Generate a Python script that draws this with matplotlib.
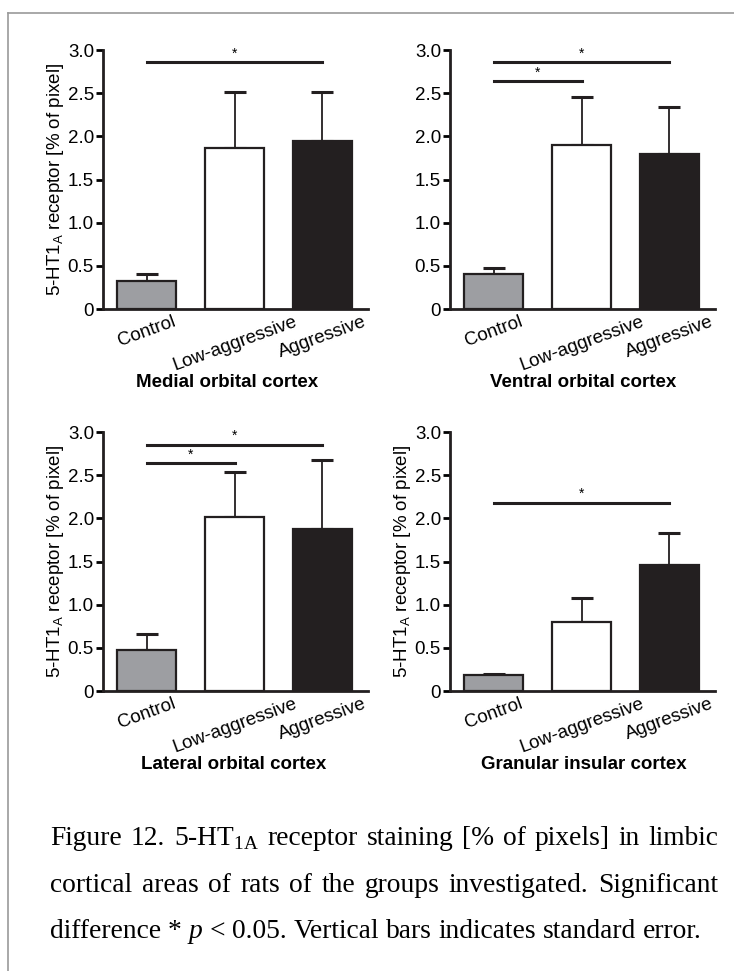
import numpy as np
import matplotlib
matplotlib.use('Agg')
import matplotlib.pyplot as plt
from matplotlib.lines import Line2D

plt.rcParams['font.family'] = ['Liberation Sans', 'DejaVu Sans']

groups = ['Control', 'Low-aggressive', 'Aggressive']
bar_colors = ['#9d9ea2', '#ffffff', '#231f20']
regions = ['Medial orbital cortex', 'Ventral orbital cortex',
           'Lateral orbital cortex', 'Granular insular cortex']

# mean and standard error
medial_mean = [0.33, 1.87, 1.95]
medial_sem = [0.07, 0.64, 0.56]
ventral_mean = [0.40, 1.905, 1.79]
ventral_sem = [0.07, 0.545, 0.55]
lateral_mean = [0.475, 2.02, 1.88]
lateral_sem = [0.18, 0.52, 0.80]
insular_mean = [0.18, 0.80, 1.465]
insular_sem = [0.02, 0.28, 0.365]

# significance brackets: (group a, group b, height)
medial_sig = [(0, 2, 2.86)]
ventral_sig = [(0, 2, 2.86), (0, 1, 2.64)]
lateral_sig = [(0, 2, 2.85), (0, 1, 2.64)]
insular_sig = [(0, 2, 2.18)]

yticks = [0, 0.5, 1.0, 1.5, 2.0, 2.5, 3.0]
ytick_labels = ['0', '0.5', '1.0', '1.5', '2.0', '2.5', '3.0']
ylabel = r'5-HT1$_\mathregular{A}$ receptor [% of pixel]'

caption_lines = [
    ['Figure', '12.', r'5-HT$_\mathregular{1A}$', 'receptor', 'staining', '[%', 'of', 'pixels]', 'in', 'limbic'],
    ['cortical', 'areas', 'of', 'rats', 'of', 'the', 'groups', 'investigated.', 'Significant'],
    ['difference', '*', 'p', '<', '0.05.', 'Vertical', 'bars', 'indicates', 'standard', 'error.'],
]

W, H = 734, 971
fig = plt.figure(figsize=(W / 100, H / 100), dpi=100)

# page frame
fig.add_artist(Line2D([8 / W, 1], [1 - 13 / H, 1 - 13 / H], color='#9a9a9a', lw=1.2))
fig.add_artist(Line2D([8 / W, 8 / W], [0, 1 - 13 / H], color='#9a9a9a', lw=1.2))

# (mean, sem, brackets, axis left px, axis bottom px, y label?, title x)
panels = [
    (medial_mean, medial_sem, medial_sig, 103, 309, True, 0.468),
    (ventral_mean, ventral_sem, ventral_sig, 450, 309, False, 0.502),
    (lateral_mean, lateral_sem, lateral_sig, 103, 691, True, 0.494),
    (insular_mean, insular_sem, insular_sig, 450, 691, True, 0.506),
]

x = np.arange(len(groups))
for (mean, sem, sig, px, py, show_ylabel, tx), region in zip(panels, regions):
    ax = fig.add_axes([px / W, 1 - py / H, 265 / W, 259 / H])
    # error bars behind the bars so only the upper half shows
    ax.errorbar(x, mean, yerr=[np.zeros(len(sem)), sem], fmt='none',
                ecolor='#231f20', elinewidth=1.3, capsize=8, capthick=2.2, zorder=1)
    ax.bar(x, mean, width=0.67, color=bar_colors, edgecolor='#231f20',
           linewidth=1.6, zorder=2)
    for a, b, h in sig:
        ax.plot([a, b], [h, h], color='#231f20', lw=2.2, clip_on=False)
        ax.text((a + b) / 2, h + 0.02, '*', ha='center', va='bottom', fontsize=10)
    ax.set_xlim(-0.5, 2.52)
    ax.set_ylim(0, 3.0)
    ax.set_yticks(yticks)
    ax.set_yticklabels(ytick_labels)
    ax.set_xticks(x)
    ax.set_xticklabels(groups, rotation=20, ha='center')
    ax.tick_params(axis='y', direction='out', length=5, width=2, pad=1.5, labelsize=13.5)
    ax.tick_params(axis='x', length=0, pad=3, labelsize=13.5)
    for s in ['top', 'right']:
        ax.spines[s].set_visible(False)
    for s in ['left', 'bottom']:
        ax.spines[s].set_linewidth(2)
        ax.spines[s].set_color('#231f20')
    if show_ylabel:
        ax.set_ylabel(ylabel, fontsize=13.5, labelpad=1)
    ax.text(tx, -0.301, region, transform=ax.transAxes, ha='center', va='baseline',
            fontweight='bold', fontsize=13.5)

# justified caption
renderer = fig.canvas.get_renderer()
x0, x1 = 50, 718
baselines = [845, 892, 938]
cap_size = 19.8
for i, (words, base) in enumerate(zip(caption_lines, baselines)):
    items = []
    for w in words:
        style = 'italic' if w == 'p' else 'normal'
        t = fig.text(0, 1 - base / H, w, family='Liberation Serif', fontsize=cap_size,
                     style=style, va='baseline', ha='left')
        items.append(t)
    widths = [t.get_window_extent(renderer).width for t in items]
    if i < len(caption_lines) - 1:
        gap = (x1 - x0 - sum(widths)) / (len(items) - 1)
    else:
        gap = cap_size * 0.25 * 100 / 72
    pos = x0
    for t, w in zip(items, widths):
        t.set_x(pos / W)
        pos += w + gap

fig.savefig('out.png', dpi=100)
